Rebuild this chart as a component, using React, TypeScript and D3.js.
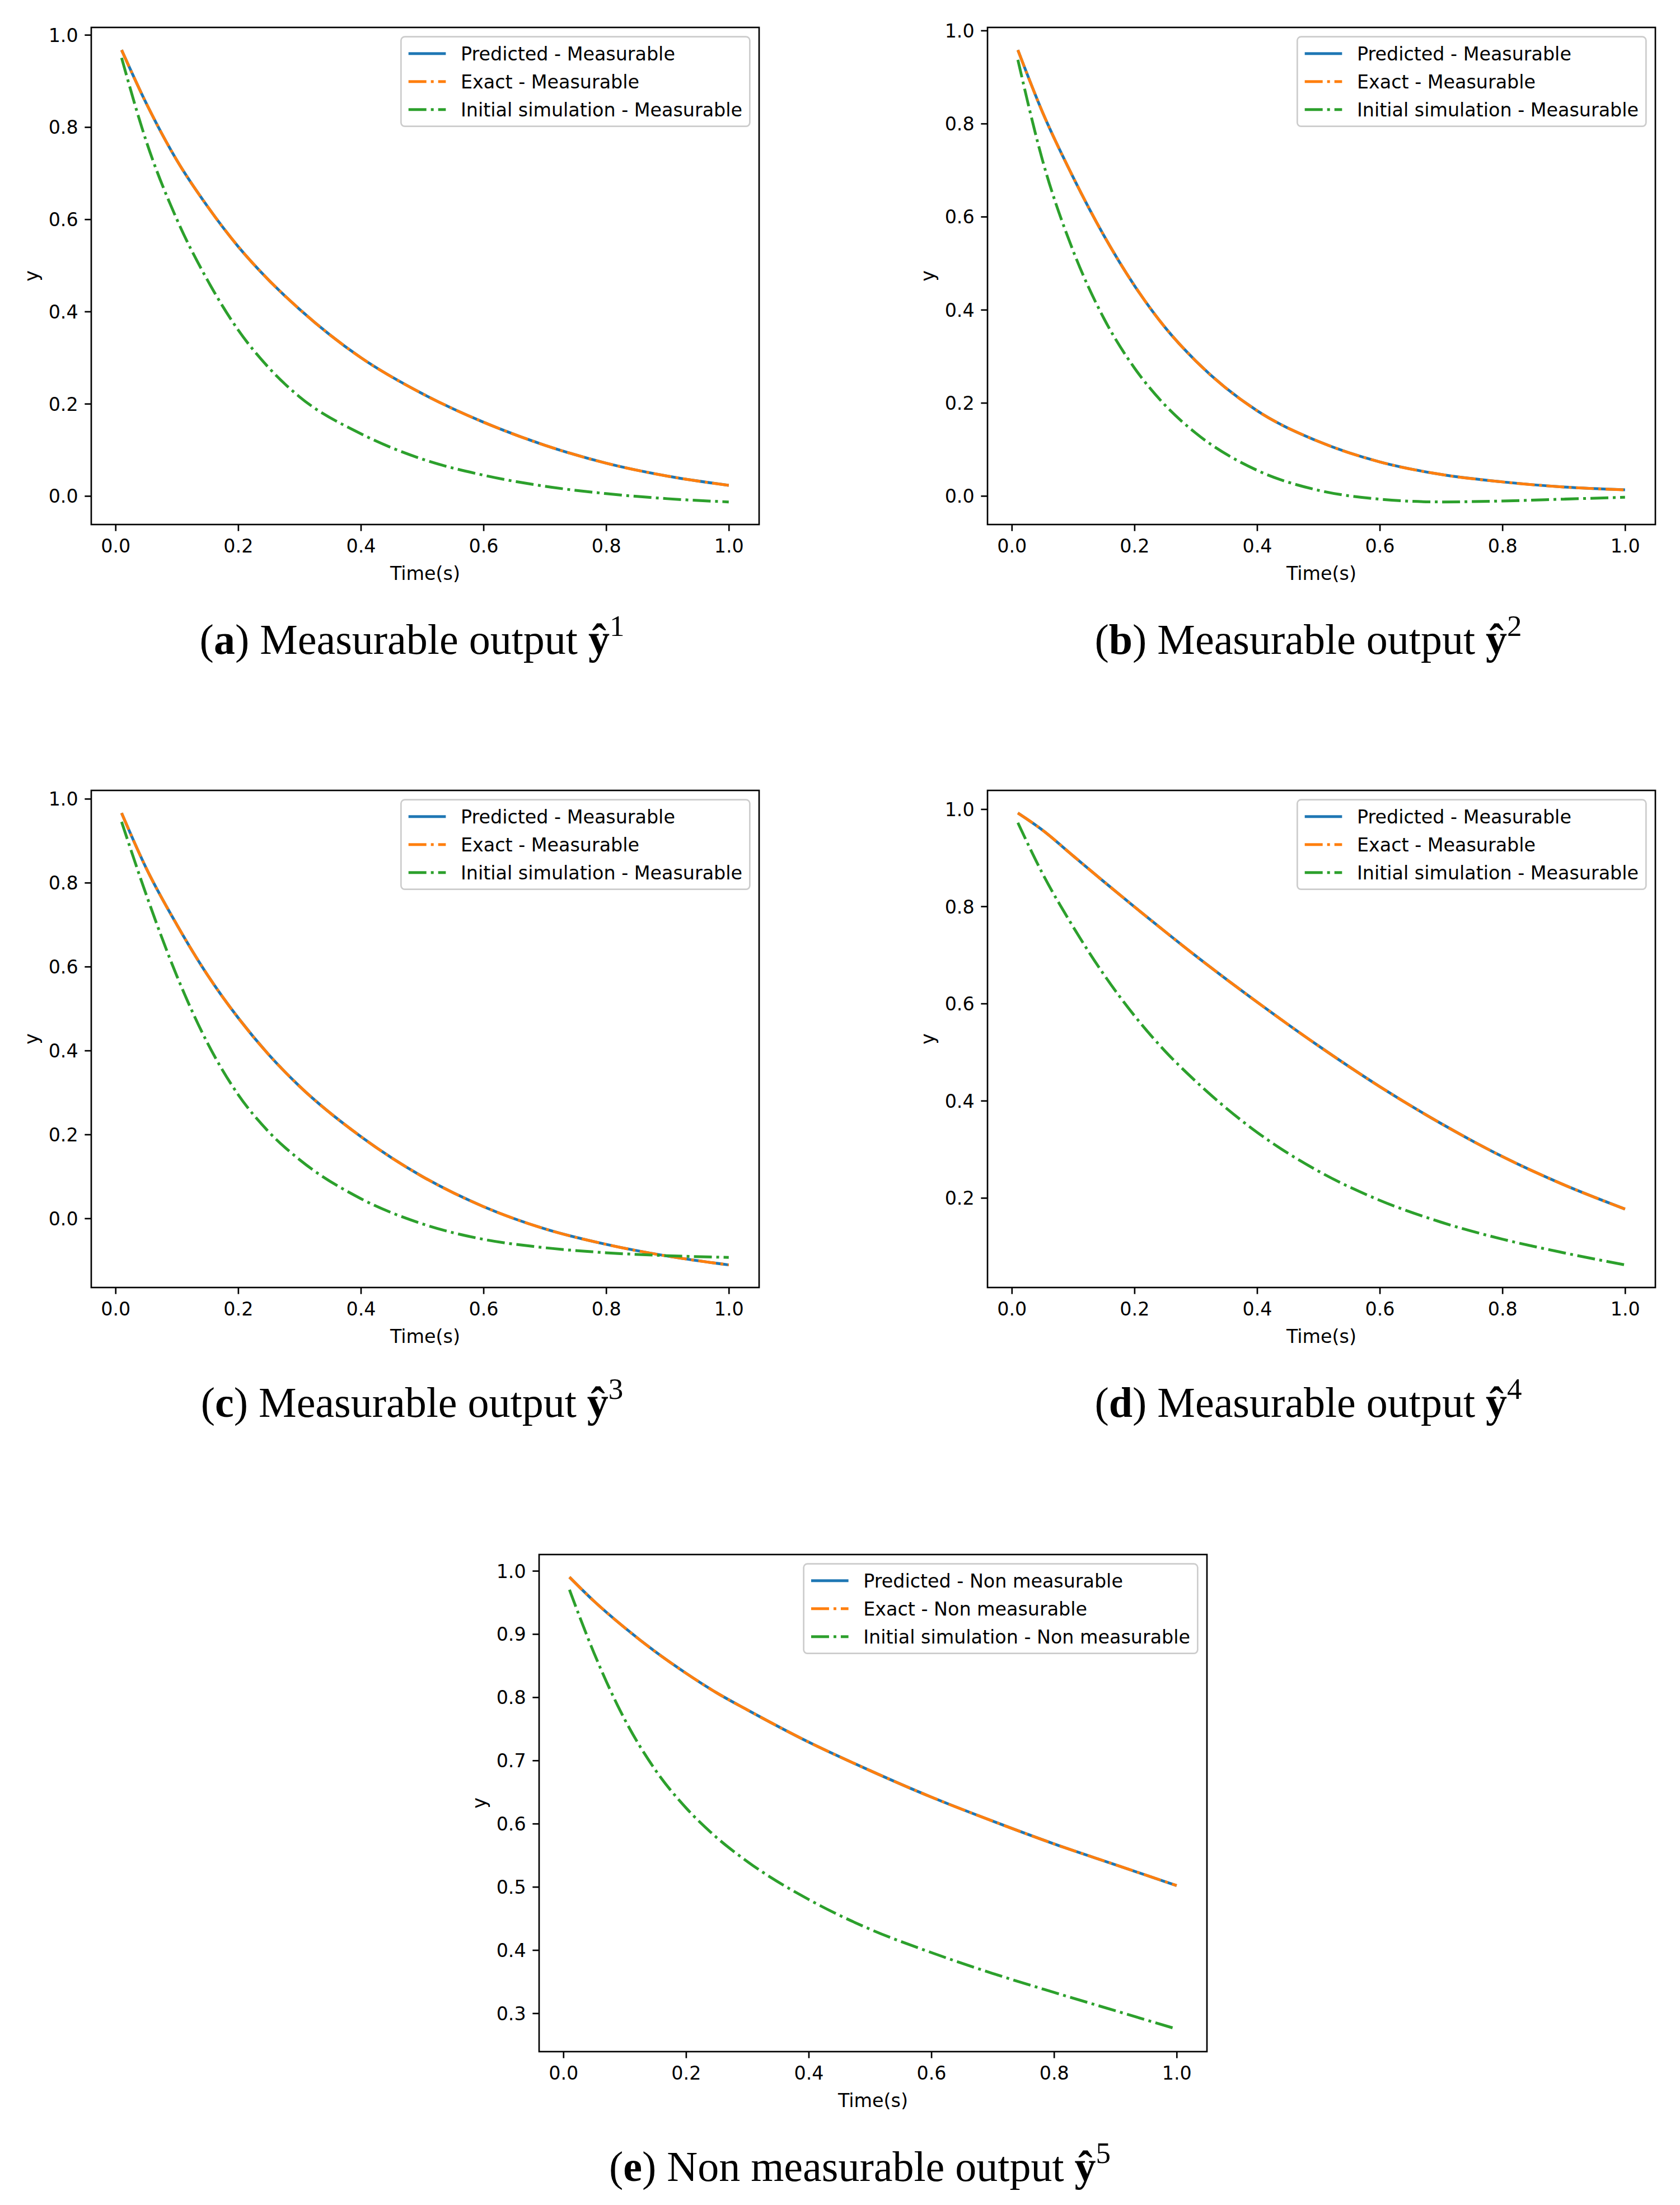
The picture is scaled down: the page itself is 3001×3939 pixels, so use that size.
import { useEffect, useRef } from "react"
import * as d3 from "d3"

// sample times (s) shared by every series
const TIME = [0.01, 0.05, 0.1, 0.15, 0.2, 0.25, 0.3, 0.4, 0.5, 0.6, 0.7, 0.8, 0.9, 1.0]

// (a) measurable output y1
const predictedA = [0.967, 0.852, 0.728, 0.628, 0.541, 0.468, 0.405, 0.3, 0.222, 0.16, 0.11, 0.071, 0.043, 0.023]
const exactA = [0.967, 0.852, 0.728, 0.628, 0.541, 0.468, 0.405, 0.3, 0.222, 0.16, 0.11, 0.071, 0.043, 0.023]
const initialA = [0.95, 0.77, 0.6, 0.468, 0.36, 0.278, 0.215, 0.135, 0.08, 0.045, 0.021, 0.005, -0.006, -0.013]

// (b) measurable output y2
const predictedB = [0.958, 0.825, 0.685, 0.56, 0.452, 0.362, 0.29, 0.183, 0.117, 0.073, 0.046, 0.03, 0.019, 0.013]
const exactB = [0.958, 0.825, 0.685, 0.56, 0.452, 0.362, 0.29, 0.183, 0.117, 0.073, 0.046, 0.03, 0.019, 0.013]
const initialB = [0.937, 0.722, 0.527, 0.382, 0.275, 0.195, 0.135, 0.055, 0.012, -0.007, -0.013, -0.011, -0.007, -0.003]

// (c) measurable output y3
const predictedC = [0.966, 0.835, 0.7, 0.58, 0.478, 0.39, 0.315, 0.195, 0.1, 0.028, -0.025, -0.062, -0.09, -0.111]
const exactC = [0.966, 0.835, 0.7, 0.58, 0.478, 0.39, 0.315, 0.195, 0.1, 0.028, -0.025, -0.062, -0.09, -0.111]
const initialC = [0.945, 0.772, 0.578, 0.418, 0.295, 0.206, 0.14, 0.047, -0.013, -0.05, -0.07, -0.082, -0.089, -0.093]

// (d) measurable output y4
const predictedD = [0.992, 0.957, 0.904, 0.851, 0.799, 0.748, 0.698, 0.603, 0.513, 0.429, 0.353, 0.285, 0.227, 0.177]
const exactD = [0.992, 0.957, 0.904, 0.851, 0.799, 0.748, 0.698, 0.603, 0.513, 0.429, 0.353, 0.285, 0.227, 0.177]
const initialD = [0.972, 0.868, 0.758, 0.66, 0.575, 0.502, 0.44, 0.335, 0.255, 0.195, 0.15, 0.115, 0.087, 0.062]

// (e) non measurable output y5
const predictedE = [0.99, 0.952, 0.91, 0.872, 0.838, 0.807, 0.78, 0.729, 0.684, 0.642, 0.604, 0.568, 0.535, 0.502]
const exactE = [0.99, 0.952, 0.91, 0.872, 0.838, 0.807, 0.78, 0.729, 0.684, 0.642, 0.604, 0.568, 0.535, 0.502]
const initialE = [0.97, 0.87, 0.765, 0.685, 0.625, 0.578, 0.54, 0.48, 0.433, 0.396, 0.363, 0.333, 0.304, 0.275]

const X_TICKS = [0, 0.2, 0.4, 0.6, 0.8, 1.0]
const Y_TICKS_AC = [0, 0.2, 0.4, 0.6, 0.8, 1.0]
const Y_TICKS_D = [0.2, 0.4, 0.6, 0.8, 1.0]
const Y_TICKS_E = [0.3, 0.4, 0.5, 0.6, 0.7, 0.8, 0.9, 1.0]

const LABELS_MEAS = ["Predicted - Measurable", "Exact - Measurable", "Initial simulation - Measurable"]
const LABELS_NON = ["Predicted - Non measurable", "Exact - Non measurable", "Initial simulation - Non measurable"]

const PANELS = [
  { letter: "a", title: "Measurable output ", sup: "1", left: 163, top: 49, yTicks: Y_TICKS_AC, labels: LABELS_MEAS, series: [predictedA, exactA, initialA] },
  { letter: "b", title: "Measurable output ", sup: "2", left: 1764, top: 49, yTicks: Y_TICKS_AC, labels: LABELS_MEAS, series: [predictedB, exactB, initialB] },
  { letter: "c", title: "Measurable output ", sup: "3", left: 163, top: 1412, yTicks: Y_TICKS_AC, labels: LABELS_MEAS, series: [predictedC, exactC, initialC] },
  { letter: "d", title: "Measurable output ", sup: "4", left: 1764, top: 1412, yTicks: Y_TICKS_D, labels: LABELS_MEAS, series: [predictedD, exactD, initialD] },
  { letter: "e", title: "Non measurable output ", sup: "5", left: 963, top: 2777, yTicks: Y_TICKS_E, labels: LABELS_NON, series: [predictedE, exactE, initialE] },
]

const W = 3001
const H = 3939
const PT = 240 / 72 // px per point
const FS = 10 * PT
const AX_W = 1193
const AX_H = 888
const COLORS = ["#1f77b4", "#ff7f0e", "#2ca02c"]
const DASHDOT = [6.4, 1.6, 1, 1.6].map((d) => d * 1.5 * PT).join(",")
const DASHES = [null, DASHDOT, DASHDOT]
const SANS = "DejaVu Sans"

// matplotlib-style 5% margins
function padded(values: number[]): [number, number] {
  const [lo, hi] = d3.extent(values) as [number, number]
  const m = (hi - lo) * 0.05
  return [lo - m, hi + m]
}

type Panel = (typeof PANELS)[number]

function drawPanel(svg: d3.Selection<SVGSVGElement, unknown, null, undefined>, p: Panel) {
  const x = d3.scaleLinear().domain(padded(TIME)).range([0, AX_W])
  const y = d3.scaleLinear().domain(padded(p.series.flat())).range([AX_H, 0])

  const g = svg.append("g").attr("transform", `translate(${p.left},${p.top})`)

  const line = d3
    .line<number>()
    .x((_, i) => x(TIME[i]))
    .y((d) => y(d))
    .curve(d3.curveMonotoneX)

  p.series.forEach((vals, i) => {
    g.append("path")
      .attr("d", line(vals))
      .attr("fill", "none")
      .attr("stroke", COLORS[i])
      .attr("stroke-width", 1.5 * PT)
      .attr("stroke-dasharray", DASHES[i])
  })

  // X axis
  const xAxis = g
    .append("g")
    .attr("transform", `translate(0,${AX_H})`)
    .call(d3.axisBottom(x).tickValues(X_TICKS).tickSize(3.5 * PT).tickPadding(3.5 * PT).tickFormat(d3.format(".1f")))
  xAxis.select(".domain").remove()
  xAxis.selectAll(".tick line").attr("stroke", "#000").attr("stroke-width", 0.8 * PT)
  xAxis.selectAll("text").attr("fill", "#000").attr("dy", "0.8em")
  xAxis.attr("font-family", SANS).attr("font-size", FS)

  // Y axis
  const yAxis = g
    .append("g")
    .call(d3.axisLeft(y).tickValues(p.yTicks).tickSize(3.5 * PT).tickPadding(3.5 * PT).tickFormat(d3.format(".1f")))
  yAxis.select(".domain").remove()
  yAxis.selectAll(".tick line").attr("stroke", "#000").attr("stroke-width", 0.8 * PT)
  yAxis.selectAll("text").attr("fill", "#000").attr("dy", "0.36em")
  yAxis.attr("font-family", SANS).attr("font-size", FS)

  // frame
  g.append("rect")
    .attr("width", AX_W)
    .attr("height", AX_H)
    .attr("fill", "none")
    .attr("stroke", "#000")
    .attr("stroke-width", 0.8 * PT)

  g.append("text")
    .attr("x", AX_W / 2)
    .attr("y", AX_H + 99)
    .attr("text-anchor", "middle")
    .attr("font-family", SANS)
    .attr("font-size", FS)
    .text("Time(s)")

  g.append("text")
    .attr("transform", `translate(-95,${AX_H / 2}) rotate(-90)`)
    .attr("text-anchor", "middle")
    .attr("font-family", SANS)
    .attr("font-size", FS)
    .text("y")

  // legend (upper right)
  const pad = 0.4 * FS
  const rowH = FS
  const gap = 0.5 * FS
  const handle = 2 * FS
  const textPad = 0.8 * FS
  const leg = g.append("g")
  const box = leg.append("rect")
  const texts = p.labels.map((lab, i) => {
    const cy = pad + rowH / 2 + i * (rowH + gap)
    const hl = leg
      .append("line")
      .attr("y1", cy)
      .attr("y2", cy)
      .attr("stroke", COLORS[i])
      .attr("stroke-width", 1.5 * PT)
      .attr("stroke-dasharray", DASHES[i])
    const t = leg
      .append("text")
      .attr("y", cy + 12)
      .attr("font-family", SANS)
      .attr("font-size", FS)
      .text(lab)
    return { hl, t }
  })
  const maxW = d3.max(texts, (d) => (d.t.node() as SVGTextElement).getComputedTextLength()) || 0
  const legW = pad + handle + textPad + maxW + pad
  const legH = pad * 2 + rowH * 3 + gap * 2
  const legX = AX_W - 0.5 * FS - legW
  const legY = 0.5 * FS
  leg.attr("transform", `translate(${legX},${legY})`)
  box
    .attr("width", legW)
    .attr("height", legH)
    .attr("rx", 0.2 * FS)
    .attr("fill", "#fff")
    .attr("fill-opacity", 0.8)
    .attr("stroke", "#cccccc")
    .attr("stroke-width", 0.8 * PT)
  texts.forEach(({ hl, t }) => {
    hl.attr("x1", pad).attr("x2", pad + handle)
    t.attr("x", pad + handle + textPad)
  })

  // caption below the subfigure
  const cap = svg
    .append("text")
    .attr("x", p.left + 573)
    .attr("y", p.top + 1119)
    .attr("text-anchor", "middle")
    .attr("font-family", "Liberation Serif")
    .attr("font-size", 76)
    .style("white-space", "pre")
  cap.append("tspan").text("(")
  cap.append("tspan").attr("font-weight", "bold").text(p.letter)
  cap.append("tspan").text(") " + p.title)
  cap.append("tspan").attr("font-weight", "bold").text("ŷ")
  cap.append("tspan").attr("font-size", 53).attr("dy", -32).text(p.sup)
}

export default function App() {
  const svgRef = useRef<SVGSVGElement>(null)

  useEffect(() => {
    if (!svgRef.current) return
    const svg = d3.select(svgRef.current)
    svg.selectAll("*").remove()
    PANELS.forEach((p) => drawPanel(svg, p))
  }, [])

  return (
    <svg
      ref={svgRef}
      width={W}
      height={H}
      style={{ position: "absolute", left: 0, top: 0, background: "#fff" }}
    />
  )
}
